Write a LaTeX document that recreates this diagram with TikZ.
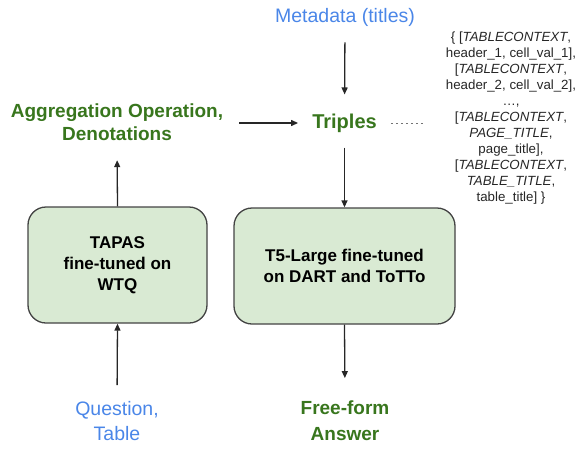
\documentclass[tikz,border=0pt]{standalone}
\usepackage{fontspec}
\setmainfont{Liberation Sans}
\usetikzlibrary{arrows.meta}
\definecolor{dgreen}{HTML}{38761D}
\definecolor{lblue}{HTML}{4A86E8}
\definecolor{boxfill}{HTML}{D9EAD3}
\definecolor{boxline}{HTML}{434343}
\begin{document}
\begin{tikzpicture}[x=1pt,y=-1pt,
  greentxt/.style={text=dgreen,font=\bfseries\fontsize{19}{23}\selectfont,align=center,inner sep=0pt},
  bluetxt/.style={text=lblue,font=\fontsize{19.5}{25}\selectfont,align=center,inner sep=0pt},
  model/.style={draw=boxline,fill=boxfill,line width=1.3pt,rounded corners=18pt,
    minimum width=#1,minimum height=116pt,inner sep=0pt,align=center,
    font=\bfseries\fontsize{17}{21}\selectfont},
  arr/.style={draw=black!85,line width=1.3pt,-{Triangle[length=7pt,width=6pt]}},
  dots/.style={draw=black!55,line width=1pt,dash pattern=on 2.5pt off 2.5pt},
  ctxtxt/.style={text=black!85,font=\fontsize{13.3}{16}\selectfont,align=center,inner sep=0pt}]
\useasboundingbox (0,0) rectangle (584,448);

\node[bluetxt] (meta) at (345,17) {Metadata (titles)};
\node[greentxt,font=\bfseries\fontsize{20}{24}\selectfont] (triples) at (344.5,123) {Triples};
\node[greentxt] (agg) at (117,122.5) {Aggregation Operation,\\Denotations};
\node[model=179pt] (tapas) at (117.5,265) {TAPAS\\fine-tuned on\\WTQ};
\node[model=221pt] (t5) at (344.5,266) {T5-Large fine-tuned\\on DART and ToTTo};
\node[bluetxt] (question) at (117,421.5) {Question,\\Table};
\node[greentxt,font=\bfseries\fontsize{19}{25.5}\selectfont] (answer) at (345,420.5) {Free-form\\Answer};
\node[ctxtxt] (ctx) at (511,118.5) {\{ {[}\textit{TABLECONTEXT},\\header\_1, cell\_val\_1],\\{[}\textit{TABLECONTEXT},\\header\_2, cell\_val\_2],\\…,\\{[}\textit{TABLECONTEXT},\\\textit{PAGE\_TITLE},\\page\_title],\\{[}\textit{TABLECONTEXT},\\\textit{TABLE\_TITLE},\\table\_title] \}};

\draw[arr,shorten <=16pt,shorten >=19pt] (meta.south) -- (triples.north);
\draw[arr,shorten <=15pt] (triples.south) -- (t5.north);
\draw[arr,shorten <=16pt,shorten >=14pt] (agg.east |- triples.west) -- (triples.west);
\draw[arr,shorten >=19pt] (tapas.north) -- (agg.south);
\draw[arr,shorten <=16.5pt] (question.north) -- (tapas.south);
\draw[arr,shorten >=22.5pt] (t5.south) -- (answer.north);
\draw[dots,shorten <=14pt,shorten >=23pt] (triples.east) -- (ctx.west |- triples.east);
\end{tikzpicture}
\end{document}
